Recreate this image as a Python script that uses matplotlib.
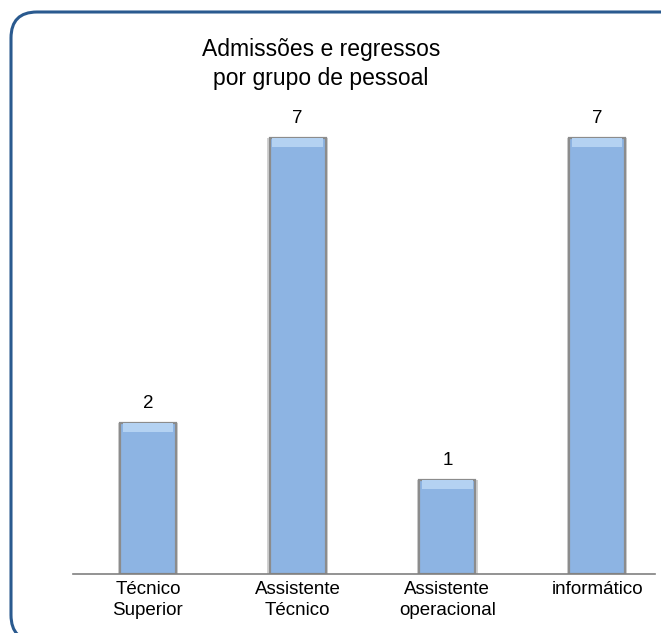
import matplotlib
matplotlib.use("Agg")
import matplotlib.pyplot as plt
from matplotlib.patches import FancyBboxPatch
from matplotlib.transforms import IdentityTransform

plt.rcParams['font.family'] = ['Liberation Sans', 'DejaVu Sans']

categories = ["Técnico\nSuperior", "Assistente\nTécnico", "Assistente\noperacional", "informático"]
values = [2, 7, 1, 7]
title = "Admissões e regressos\npor grupo de pessoal"

AXIS_MIN = -0.65
AXIS_MAX = 7.67

W, H, DPI = 661, 633, 100
fig = plt.figure(figsize=(W / DPI, H / DPI), dpi=DPI)
fig.patch.set_facecolor("white")

# rounded frame around the whole chart (pixel coordinates)
frame = FancyBboxPatch((11, -8), 680, 633 - 12 + 8,
                       boxstyle="round,pad=0,rounding_size=26",
                       transform=IdentityTransform(), facecolor="none",
                       edgecolor="#2a5a8f", linewidth=2.2)
fig.patches.append(frame)

ax_left, ax_right = 73, 672
ax = fig.add_axes([ax_left / W, 1 - 574 / H, (ax_right - ax_left) / W, (574 - 100) / H])
ax.set_xlim(-0.5, len(values) - 0.5)
ax.set_ylim(AXIS_MIN, AXIS_MAX)

x = list(range(len(values)))
heights = [v - AXIS_MIN for v in values]
bw = 0.375

# soft shadow behind the bars
ax.bar(x, heights, bottom=AXIS_MIN, width=bw + 0.03, color="#9a9a9a", alpha=0.45,
       linewidth=0, zorder=2)
ax.bar(x, heights, bottom=AXIS_MIN, width=bw, color="#8db4e3",
       edgecolor="#8c8c8c", linewidth=1.6, zorder=3)
# lighter bevel at the top of each bar
top_band = 0.16
ax.bar(x, [top_band] * len(values), bottom=[v - top_band for v in values],
       width=bw * 0.9, color="#b4d2f2", linewidth=0, zorder=4)

for xi, v in zip(x, values):
    ax.annotate(str(v), (xi, v), xytext=(0, 8), textcoords="offset points",
                ha="center", va="bottom", fontsize=13.5, color="black")

ax.set_xticks(x)
ax.set_xticklabels(categories, fontsize=13.5, linespacing=1.3)
ax.tick_params(axis="x", length=0, pad=5)
ax.set_yticks([])
for s in ("top", "right", "left", "bottom"):
    ax.spines[s].set_visible(False)
# category axis line
ax.axhline(AXIS_MIN, xmin=0, xmax=(655 - ax_left) / (ax_right - ax_left),
           color="#808080", linewidth=1.2, zorder=5, clip_on=False)

fig.text(321 / W, 1 - 64 / H, title, ha="center", va="center", fontsize=16.5,
         linespacing=1.3)

fig.savefig("out.png", dpi=DPI)
